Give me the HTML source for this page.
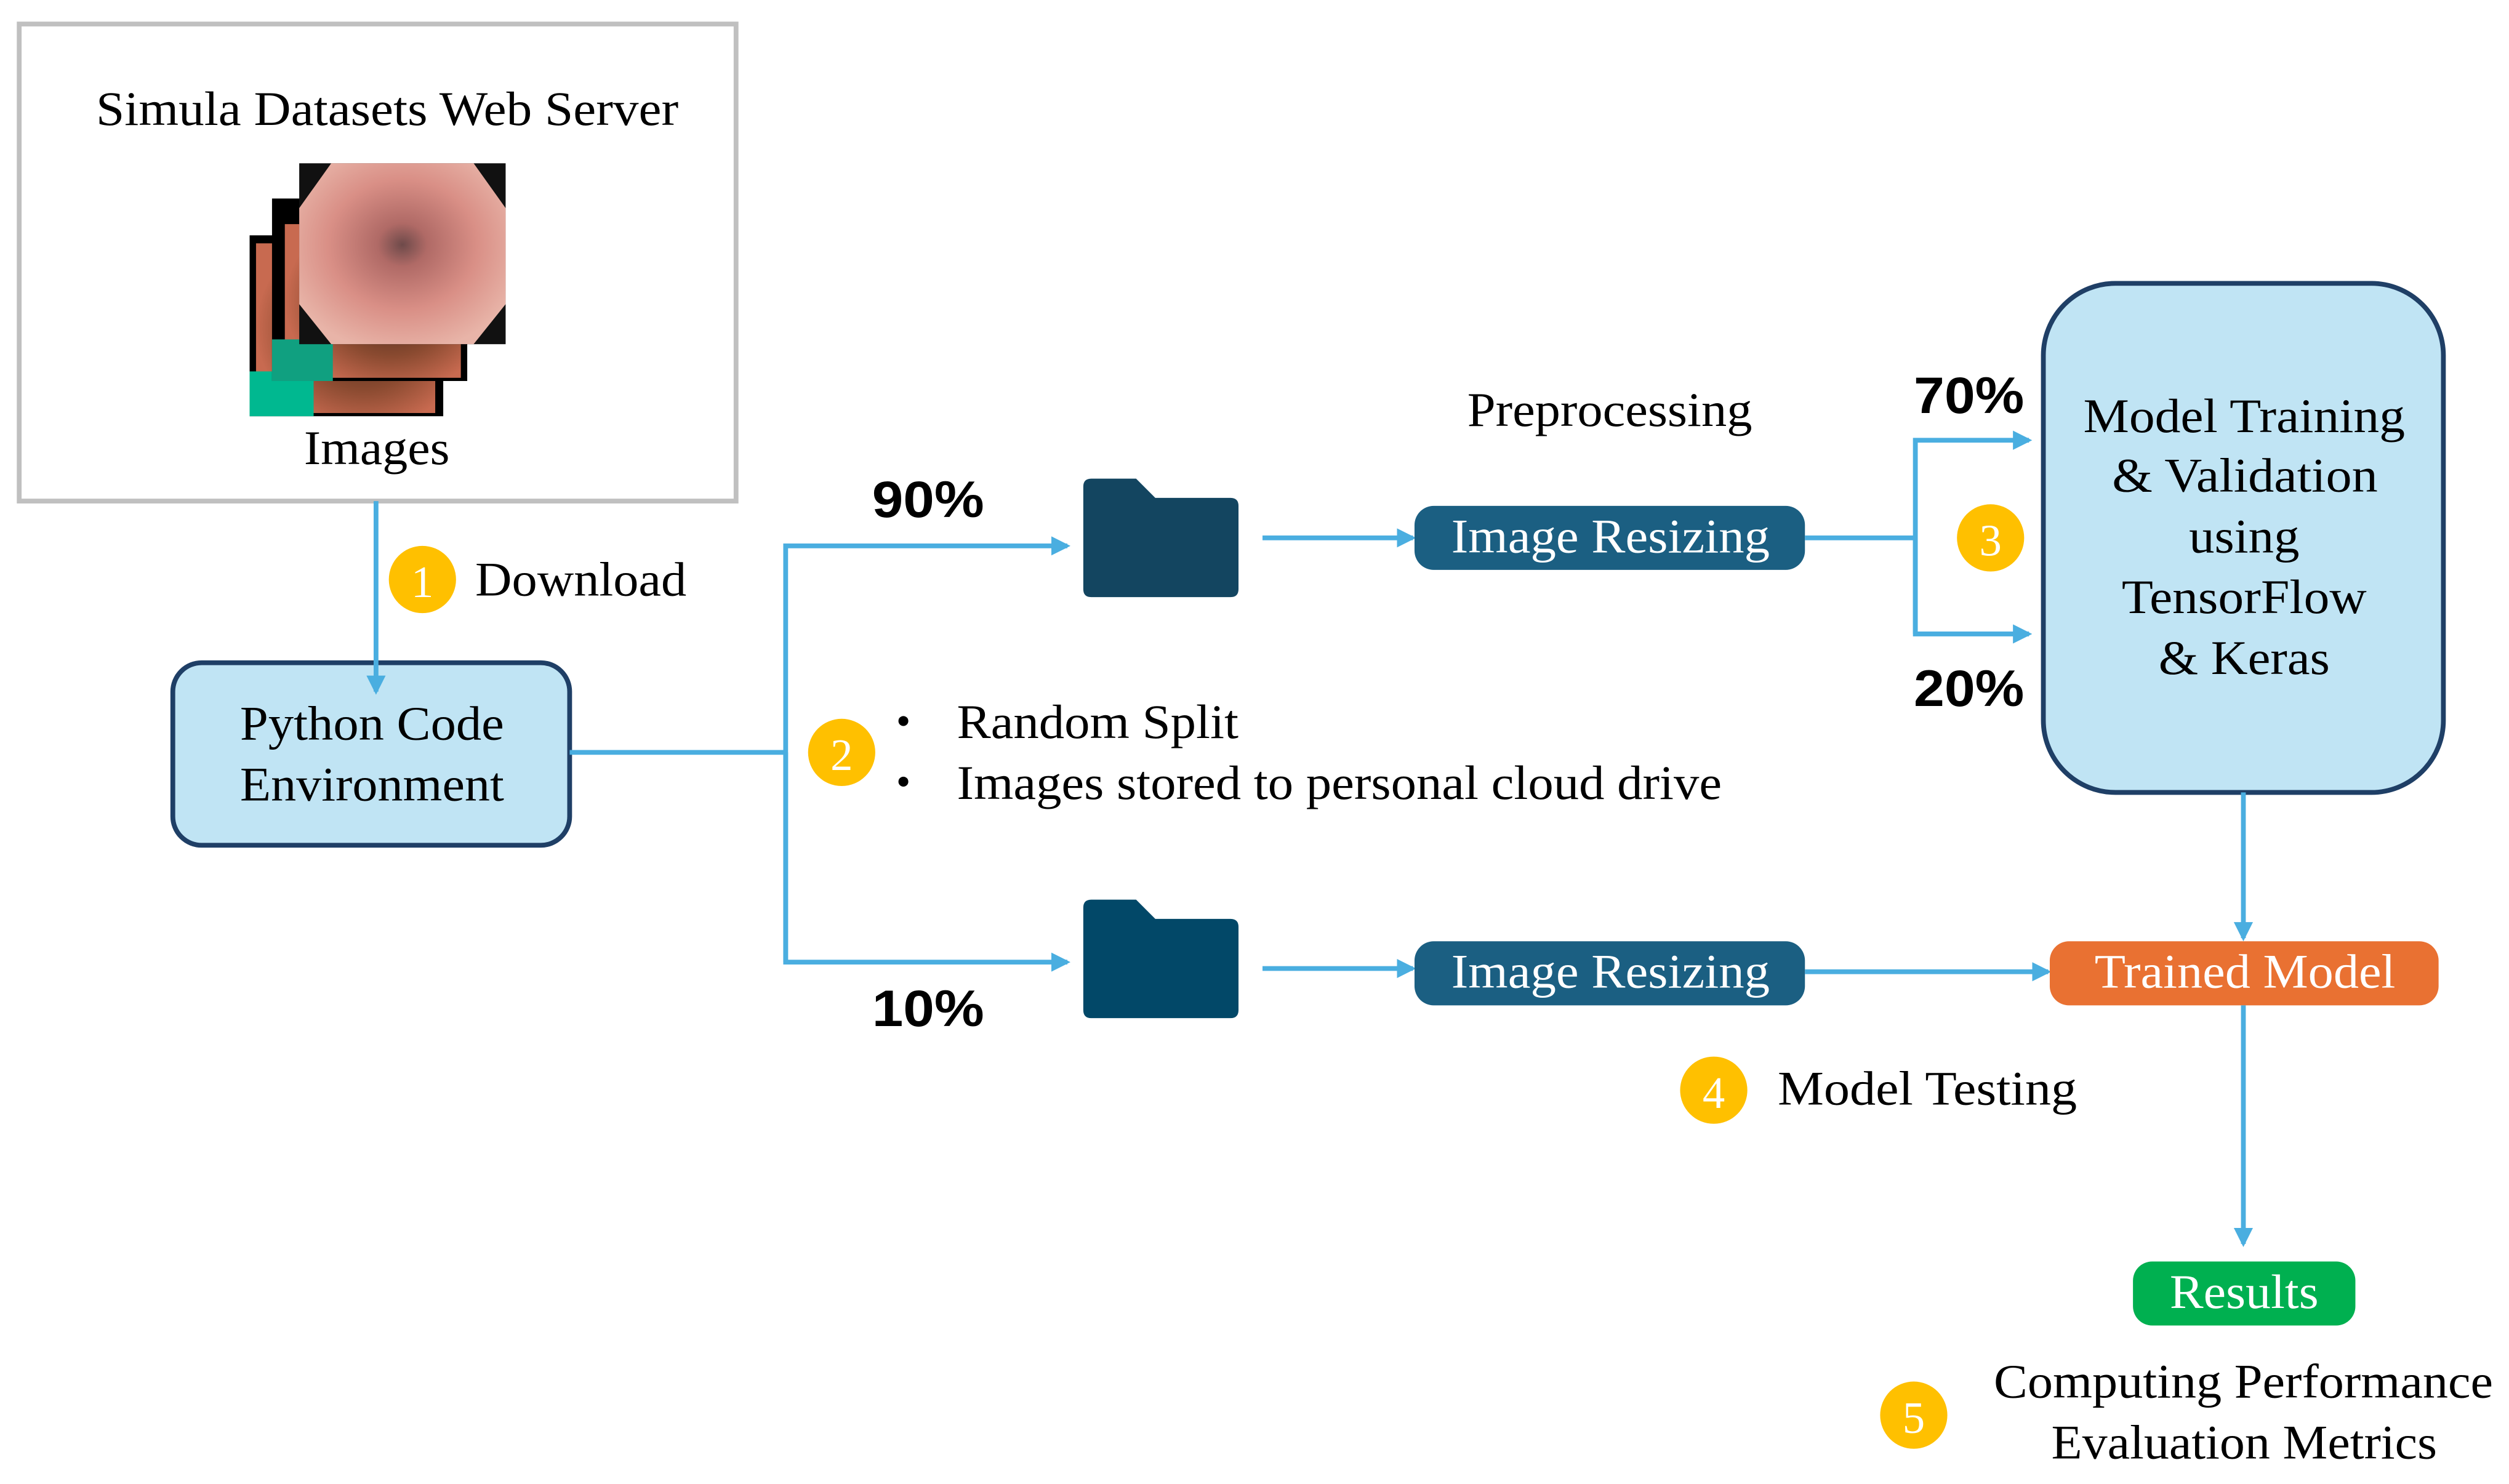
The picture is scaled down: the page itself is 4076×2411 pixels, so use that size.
<!DOCTYPE html>
<html><head><meta charset="utf-8"><style>
html,body{margin:0;padding:0;background:#fff;}
svg{display:block;}
text{font-family:"Liberation Serif",serif;}
.b{font-family:"Liberation Sans",sans-serif;font-weight:bold;}
</style></head><body>
<svg width="4076" height="2411" viewBox="0 0 1568 927" preserveAspectRatio="none" xmlns="http://www.w3.org/2000/svg">
<defs>
<marker id="ah" markerWidth="12" markerHeight="12" refX="10" refY="6" orient="auto" markerUnits="userSpaceOnUse">
<path d="M0,0 L12,6 L0,12 z" fill="#4aaee0"/></marker>
<radialGradient id="g1" cx="0.5" cy="0.45" r="0.6"><stop offset="0" stop-color="#6e4a4a"/><stop offset="0.2" stop-color="#b06a66"/><stop offset="0.6" stop-color="#d98f86"/><stop offset="1" stop-color="#e8b4a8"/></radialGradient>
<radialGradient id="g2" cx="0.6" cy="0.5" r="0.6"><stop offset="0" stop-color="#3a2418"/><stop offset="0.6" stop-color="#8a4a30"/><stop offset="1" stop-color="#c86a50"/></radialGradient>
</defs>
<rect width="1568" height="927" fill="#fff"/>
<rect x="12" y="15" width="448" height="298" fill="#fff" stroke="#c0c0c0" stroke-width="3"/>
<text x="60" y="78" font-size="30" textLength="364" lengthAdjust="spacingAndGlyphs">Simula Datasets Web Server</text>
<rect x="156" y="147" width="121" height="113" fill="#000"/>
<rect x="160" y="152" width="112" height="106" fill="url(#g2)"/>
<rect x="156" y="232" width="40" height="28" fill="#00b890"/>
<rect x="170" y="124" width="122" height="114" fill="#000"/>
<rect x="178" y="140" width="110" height="96" fill="url(#g2)"/>
<rect x="170" y="212" width="38" height="26" fill="#10a080"/>
<rect x="187" y="102" width="129" height="113" fill="#111"/>
<polygon points="207,102 296,102 316,130 316,190 296,215 207,215 187,190 187,130" fill="url(#g1)"/>
<text x="190" y="290" font-size="30" textLength="91" lengthAdjust="spacingAndGlyphs">Images</text>
<rect x="108" y="414" width="248" height="114" rx="18" fill="#c0e4f4" stroke="#1f3f66" stroke-width="3"/>
<line x1="235" y1="313" x2="235" y2="432" stroke="#4aaee0" stroke-width="3" marker-end="url(#ah)"/>
<circle cx="264" cy="362" r="21" fill="#ffc000"/><text x="264" y="373" font-size="28" fill="#fff" text-anchor="middle">1</text>
<text x="297" y="372" font-size="30" textLength="132" lengthAdjust="spacingAndGlyphs">Download</text>
<text x="150" y="462" font-size="30" textLength="165" lengthAdjust="spacingAndGlyphs">Python Code</text>
<text x="150" y="500" font-size="30" textLength="165" lengthAdjust="spacingAndGlyphs">Environment</text>
<polyline points="356,470 491,470" fill="none" stroke="#4aaee0" stroke-width="3"/>
<polyline points="491,601 491,341 667,341" fill="none" stroke="#4aaee0" stroke-width="3" marker-end="url(#ah)"/>
<polyline points="491,470 491,601 667,601" fill="none" stroke="#4aaee0" stroke-width="3" marker-end="url(#ah)"/>
<circle cx="526" cy="470" r="21" fill="#ffc000"/><text x="526" y="481" font-size="28" fill="#fff" text-anchor="middle">2</text>
<text x="560" y="459" font-size="26">•</text><text x="560" y="497" font-size="26">•</text>
<text x="598" y="461" font-size="30" textLength="176" lengthAdjust="spacingAndGlyphs">Random Split</text>
<text x="598" y="499" font-size="30" textLength="478" lengthAdjust="spacingAndGlyphs">Images stored to personal cloud drive</text>
<text x="545" y="323" font-size="32" class="b" textLength="70" lengthAdjust="spacingAndGlyphs">90%</text>
<text x="545" y="641" font-size="32" class="b" textLength="70" lengthAdjust="spacingAndGlyphs">10%</text>
<path d="M677,304 q0,-5 5,-5 h28 l12,12 h47 q5,0 5,5 v52 q0,5 -5,5 h-87 q-5,0 -5,-5 z" fill="#134560"/>
<path d="M677,567 q0,-5 5,-5 h28 l12,12 h47 q5,0 5,5 v52 q0,5 -5,5 h-87 q-5,0 -5,-5 z" fill="#024868"/>
<line x1="789" y1="336" x2="883" y2="336" stroke="#4aaee0" stroke-width="3" marker-end="url(#ah)"/>
<line x1="789" y1="605" x2="883" y2="605" stroke="#4aaee0" stroke-width="3" marker-end="url(#ah)"/>
<text x="917" y="266" font-size="30" textLength="178" lengthAdjust="spacingAndGlyphs">Preprocessing</text>
<rect x="884" y="316" width="244" height="40" rx="12" fill="#1b5f82"/>
<text x="907" y="345" font-size="30" fill="#fff" textLength="199" lengthAdjust="spacingAndGlyphs">Image Resizing</text>
<rect x="884" y="588" width="244" height="40" rx="12" fill="#1b5f82"/>
<text x="907" y="617" font-size="30" fill="#fff" textLength="199" lengthAdjust="spacingAndGlyphs">Image Resizing</text>
<line x1="1128" y1="336" x2="1197" y2="336" stroke="#4aaee0" stroke-width="3"/>
<polyline points="1197,396 1197,275 1268,275" fill="none" stroke="#4aaee0" stroke-width="3" marker-end="url(#ah)"/>
<polyline points="1197,336 1197,396 1268,396" fill="none" stroke="#4aaee0" stroke-width="3" marker-end="url(#ah)"/>
<text x="1196" y="258" font-size="32" class="b" textLength="69" lengthAdjust="spacingAndGlyphs">70%</text>
<text x="1196" y="441" font-size="32" class="b" textLength="69" lengthAdjust="spacingAndGlyphs">20%</text>
<circle cx="1244" cy="336" r="21" fill="#ffc000"/><text x="1244" y="347" font-size="28" fill="#fff" text-anchor="middle">3</text>
<rect x="1277" y="177" width="250" height="318" rx="45" fill="#c0e4f4" stroke="#1f3f66" stroke-width="3"/>
<text x="1302" y="270" font-size="30" textLength="201" lengthAdjust="spacingAndGlyphs">Model Training</text>
<text x="1320" y="307" font-size="30" textLength="166" lengthAdjust="spacingAndGlyphs">&amp; Validation</text>
<text x="1368" y="345" font-size="30" textLength="69" lengthAdjust="spacingAndGlyphs">using</text>
<text x="1326" y="383" font-size="30" textLength="153" lengthAdjust="spacingAndGlyphs">TensorFlow</text>
<text x="1349" y="421" font-size="30" textLength="107" lengthAdjust="spacingAndGlyphs">&amp; Keras</text>
<line x1="1402" y1="495" x2="1402" y2="586" stroke="#4aaee0" stroke-width="3" marker-end="url(#ah)"/>
<line x1="1128" y1="607" x2="1280" y2="607" stroke="#4aaee0" stroke-width="3" marker-end="url(#ah)"/>
<rect x="1281" y="588" width="243" height="40" rx="12" fill="#e97132"/>
<text x="1309" y="617" font-size="30" fill="#fff" textLength="188" lengthAdjust="spacingAndGlyphs">Trained Model</text>
<circle cx="1071" cy="681" r="21" fill="#ffc000"/><text x="1071" y="692" font-size="28" fill="#fff" text-anchor="middle">4</text>
<text x="1111" y="690" font-size="30" textLength="187" lengthAdjust="spacingAndGlyphs">Model Testing</text>
<line x1="1402" y1="628" x2="1402" y2="777" stroke="#4aaee0" stroke-width="3" marker-end="url(#ah)"/>
<rect x="1333" y="788" width="139" height="40" rx="12" fill="#00b050"/>
<text x="1356" y="817" font-size="30" fill="#fff" textLength="93" lengthAdjust="spacingAndGlyphs">Results</text>
<circle cx="1196" cy="884" r="21" fill="#ffc000"/><text x="1196" y="895" font-size="28" fill="#fff" text-anchor="middle">5</text>
<text x="1246" y="873" font-size="30" textLength="312" lengthAdjust="spacingAndGlyphs">Computing Performance</text>
<text x="1282" y="911" font-size="30" textLength="241" lengthAdjust="spacingAndGlyphs">Evaluation Metrics</text>
</svg>
</body></html>
